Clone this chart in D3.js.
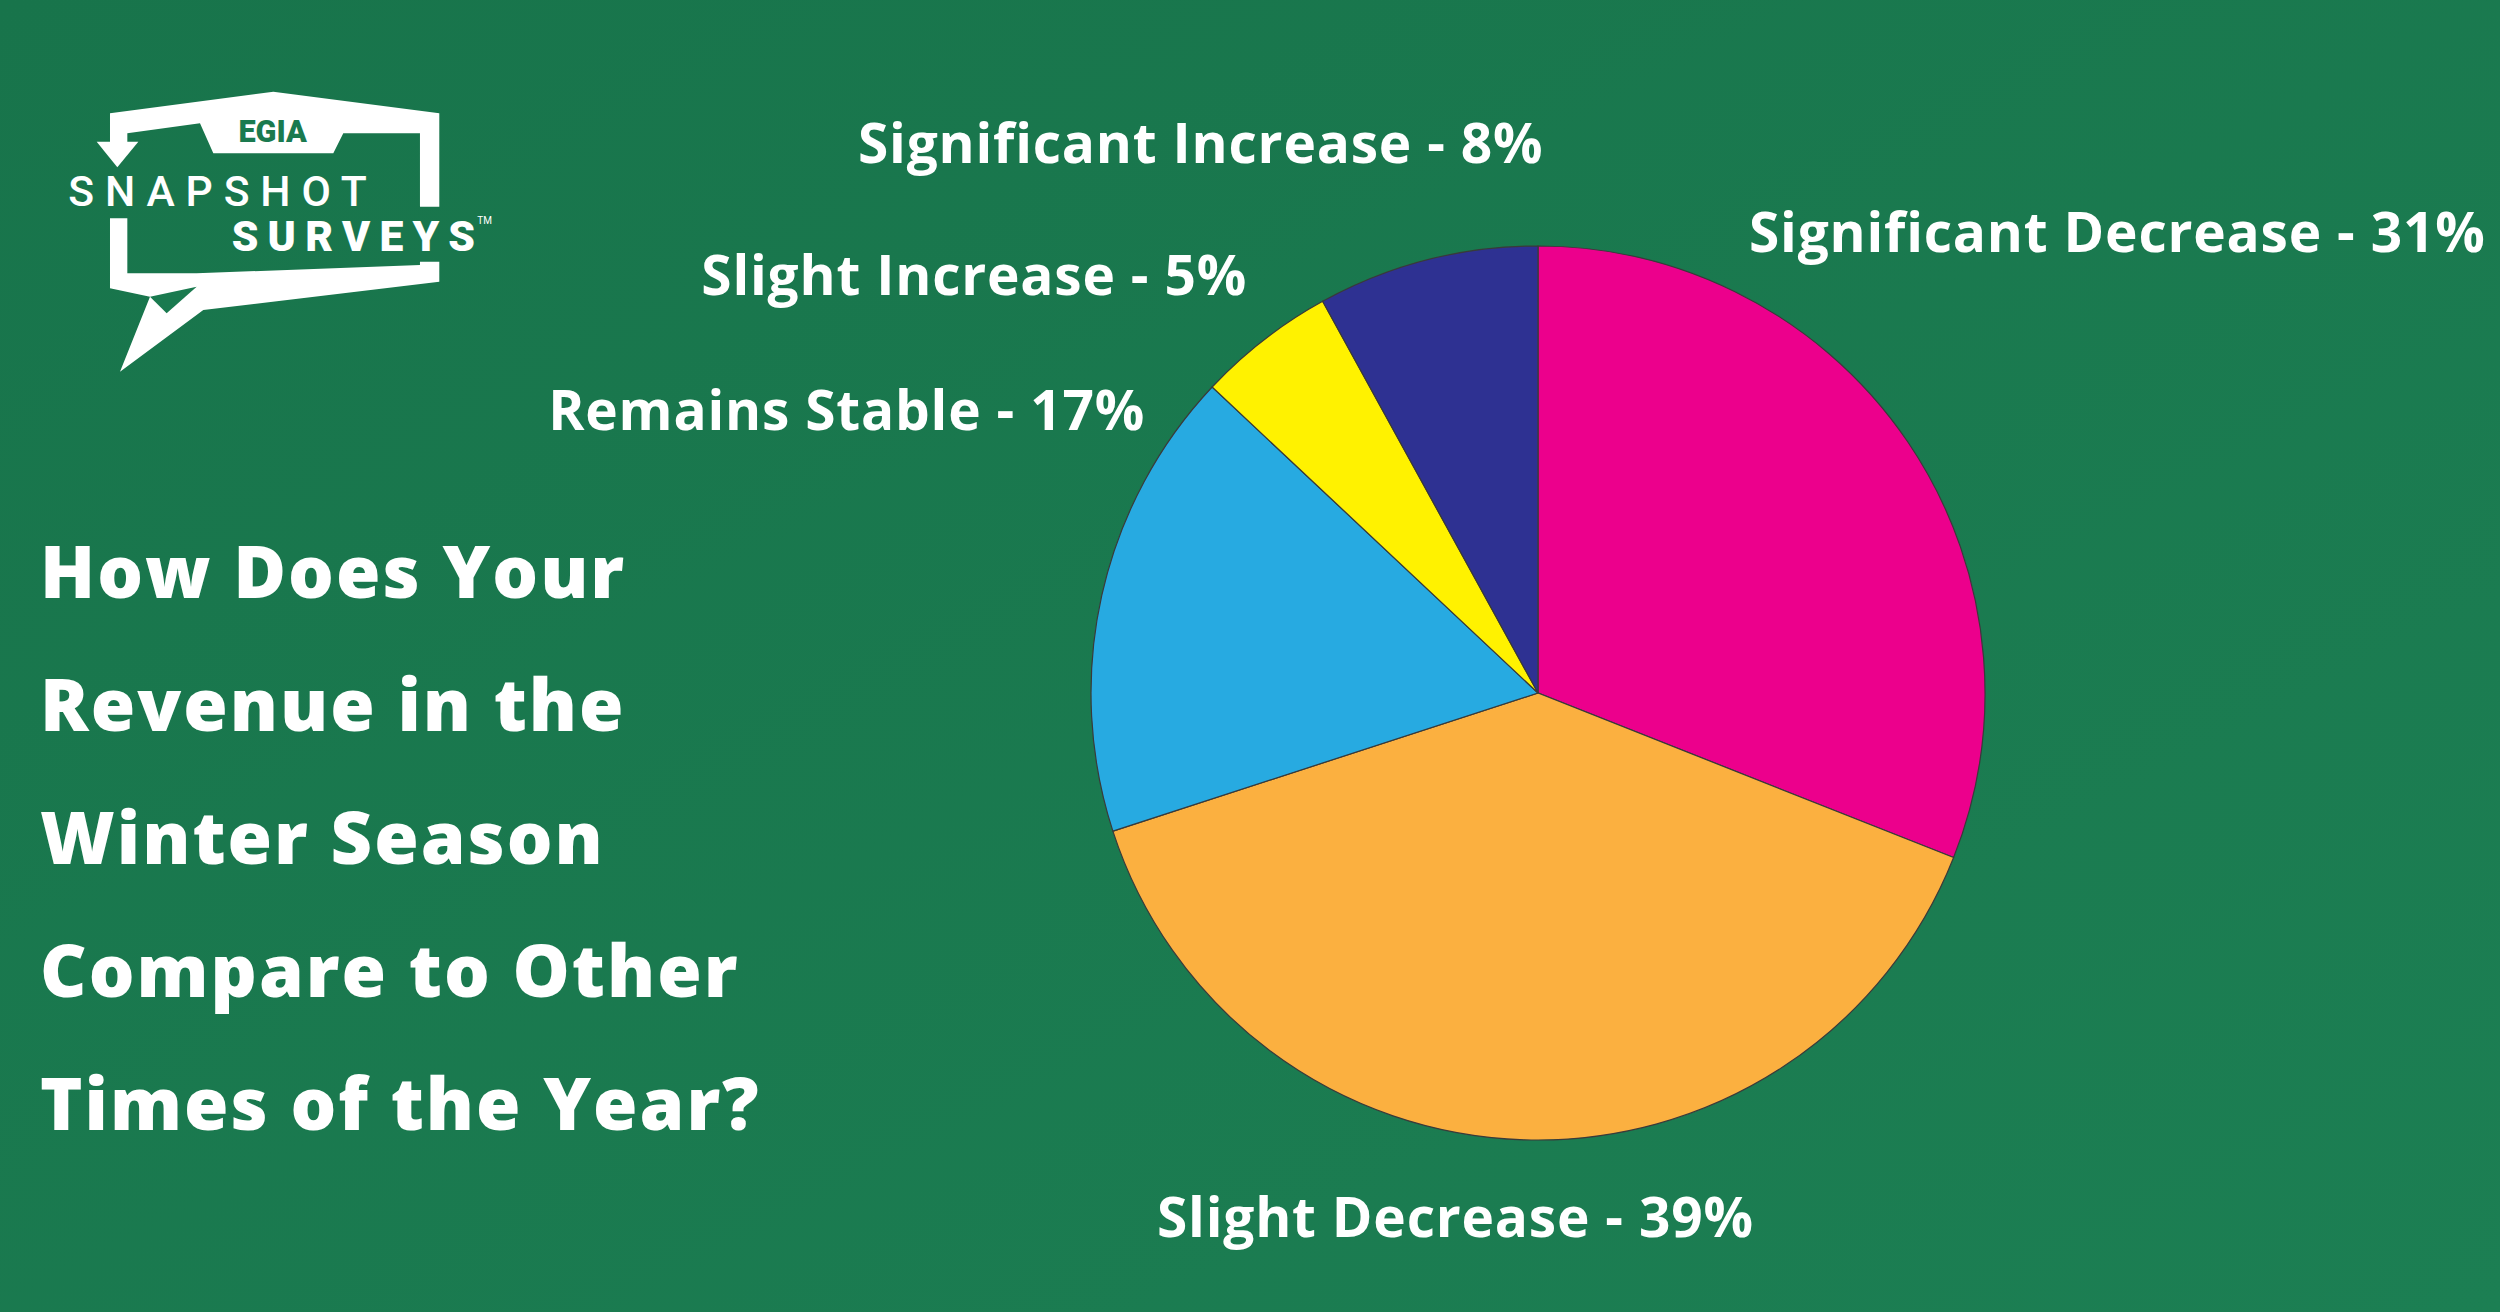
<!DOCTYPE html>
<html><head><meta charset="utf-8">
<script src="https://cdn.jsdelivr.net/npm/d3@7"></script>
<style>html,body{margin:0;padding:0;background:#1a7a4f;overflow:hidden}</style>
</head><body>
<script>
const categories = ["Significant Decrease","Slight Decrease","Remains Stable","Slight Increase","Significant Increase"];
const values = [31,39,17,5,8];
const colors = ["#EC008C","#FBB040","#27AAE1","#FFF200","#2E3192"];
const titleLines = ["How Does Your","Revenue in the","Winter Season","Compare to Other","Times of the Year?"];

const W=2500,H=1312;
const svg=d3.select("body").append("svg").attr("width",W).attr("height",H);
const defs=svg.append("defs");
const lg=defs.append("linearGradient").attr("id","bg").attr("x1",0).attr("y1",0).attr("x2",1).attr("y2",1);
lg.append("stop").attr("offset",0).attr("stop-color","#18744b");
lg.append("stop").attr("offset",1).attr("stop-color","#1c7f53");
svg.append("rect").attr("width",W).attr("height",H).attr("fill","url(#bg)");

// logo (coords in 3x zoom space)
const lo=svg.append("g").attr("transform","translate(50,80) scale(0.3333)");
lo.append("polygon").attr("fill","#fff").attr("points","180,100 670,35 1168,100 1168,380 1110,380 1110,160 880,160 850,220 490,220 450,130 232,160 232,190 180,190");
lo.append("polygon").attr("fill","#fff").attr("points","140,185 265,185 202,262");
lo.append("polygon").attr("fill","#fff").attr("points","180,415 232,415 232,580 440,580 1110,555 1110,545 1168,545 1168,605 460,690 210,875 300,650 180,625");
lo.append("polygon").attr("fill","#1a7a4f").attr("points","300,650 440,620 350,700");
lo.append("text").attr("x",668).attr("y",185).attr("text-anchor","middle").attr("font-family","Roboto").attr("font-weight",900).attr("font-size",92).attr("fill","#1a7a4f").text("EGIA");
lo.append("text").attr("x",55).attr("y",378).attr("textLength",895).attr("font-family","Roboto").attr("font-weight",500).attr("font-size",128).attr("fill","#fff").text("SNAPSHOT");
lo.append("text").attr("x",545).attr("y",512).attr("textLength",730).attr("font-family","Roboto").attr("font-weight",900).attr("font-size",128).attr("fill","#fff").text("SURVEYS");
lo.append("text").attr("x",1282).attr("y",432).attr("font-family","Roboto").attr("font-size",30).attr("fill","#fff").text("TM");

// title
svg.append("g").selectAll("text").data(titleLines).join("text")
 .attr("x",40).attr("y",(d,i)=>598+i*133)
 .attr("font-family","'Open Sans'").attr("font-weight",800).attr("font-size",72).attr("letter-spacing",2)
 .attr("fill","#fff").text(d=>d);

// pie
const cx=1538,cy=693,r=447;
const pie=d3.pie().sort(null).value(d=>d)(values);
const arc=d3.arc().innerRadius(0).outerRadius(r);
svg.append("g").attr("transform",`translate(${cx},${cy})`).selectAll("path").data(pie).join("path")
 .attr("d",arc).attr("fill",(d,i)=>colors[i]).attr("stroke","#3a3a3a").attr("stroke-width",1.2);

// labels
const labelPos=[[1749,252,"start"],[1157,1237,"start"],[1145,430,"end"],[1247,295,"end"],[858,163,"start"]];
svg.append("g").selectAll("text").data(categories).join("text")
 .attr("x",(d,i)=>labelPos[i][0]).attr("y",(d,i)=>labelPos[i][1]).attr("text-anchor",(d,i)=>labelPos[i][2])
 .attr("font-family","'Open Sans'").attr("font-weight",700).attr("font-size",55).attr("letter-spacing",0.8).attr("fill","#fff")
 .text((d,i)=>`${d} - ${values[i]}%`);
</script>
</body></html>
